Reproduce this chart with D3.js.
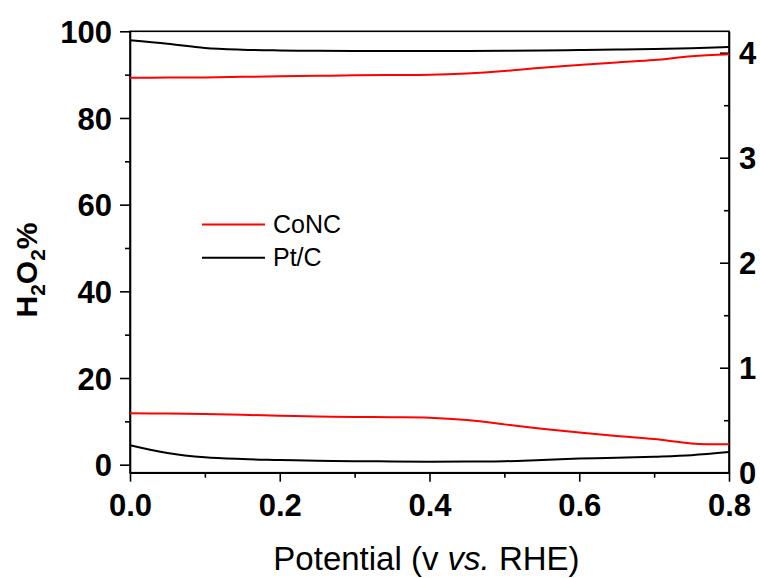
<!DOCTYPE html>
<html>
<head>
<meta charset="utf-8">
<script src="https://cdn.jsdelivr.net/npm/d3@7"></script>
<style>
  body { margin: 0; background: #fff; }
  svg { display: block; font-family: "Liberation Sans", Arial, sans-serif; }
  .tick text { font-weight: bold; }
</style>
</head>
<body>
<div id="chart"></div>
<script>
// potential values (V vs RHE)
const potential = [0, 0.05, 0.1, 0.15, 0.2, 0.25, 0.3, 0.35, 0.4, 0.45, 0.5, 0.55, 0.6, 0.65, 0.7, 0.75, 0.8];

// H2O2 % (left axis)
const concH2O2 = [11.85, 11.8, 11.7, 11.5, 11.3, 11.1, 11.0, 10.95, 10.85, 10.3, 9.3, 8.3, 7.4, 6.6, 5.9, 4.9, 4.7];
const ptcH2O2 = [4.5, 2.7, 1.7, 1.3, 1.1, 0.9, 0.8, 0.75, 0.7, 0.75, 0.8, 1.1, 1.4, 1.6, 1.85, 2.2, 2.9];

// electron transfer number (right axis)
const concN = [3.762, 3.763, 3.765, 3.77, 3.775, 3.78, 3.785, 3.788, 3.79, 3.803, 3.826, 3.857, 3.883, 3.908, 3.93, 3.967, 3.985];
const ptcN = [4.118, 4.085, 4.045, 4.029, 4.022, 4.018, 4.016, 4.016, 4.016, 4.017, 4.019, 4.022, 4.026, 4.03, 4.035, 4.043, 4.054];

const xTicks = [0, 0.2, 0.4, 0.6, 0.8];
const xMinor = [0.1, 0.3, 0.5, 0.7];
const yTicks = [0, 20, 40, 60, 80, 100];
const yMinor = [10, 30, 50, 70, 90];
const y2Ticks = [0, 1, 2, 3, 4];
const y2Minor = [0.5, 1.5, 2.5, 3.5];

const seriesNames = ["CoNC", "Pt/C"];
const seriesColors = ["#ff0000", "#000000"];

const W = 760, H = 578;
const margin = {top: 31.3, right: 31, bottom: 105.3, left: 130};
const width = W - margin.left - margin.right,
      height = H - margin.top - margin.bottom;

const svg = d3.select("#chart").append("svg")
  .attr("width", W)
  .attr("height", H);

const g = svg.append("g")
  .attr("transform", `translate(${margin.left},${margin.top})`);

const x = d3.scaleLinear().domain([0, 0.8]).range([0, width]);
const y = d3.scaleLinear().domain([-1.85, 100]).range([height, 0]);
const y2 = d3.scaleLinear().domain([0, 4.204]).range([height, 0]);

// bottom axis
g.append("g")
  .attr("transform", `translate(0,${height})`)
  .call(d3.axisBottom(x).tickValues(xTicks).tickSize(9).tickSizeOuter(0).tickPadding(12)
    .tickFormat(d3.format(".1f")))
  .call(a => a.selectAll("text").style("font-size", "31px"));
g.append("g")
  .attr("transform", `translate(0,${height})`)
  .call(d3.axisBottom(x).tickValues(xMinor).tickSize(5).tickSizeOuter(0).tickFormat(""))
  .call(a => a.select(".domain").remove());

// left axis
g.append("g")
  .call(d3.axisLeft(y).tickValues(yTicks).tickSize(10).tickSizeOuter(0).tickPadding(8))
  .call(a => a.selectAll("text").style("font-size", "31px").attr("dy", "0.36em"));
g.append("g")
  .call(d3.axisLeft(y).tickValues(yMinor).tickSize(5).tickSizeOuter(0).tickFormat(""))
  .call(a => a.select(".domain").remove());

// right axis, ticks pointing inward
g.append("g")
  .attr("transform", `translate(${width},0)`)
  .call(d3.axisRight(y2).tickValues(y2Ticks).tickSize(-9).tickSizeOuter(0).tickPadding(10)
    .tickFormat(d3.format("d")))
  .call(a => a.selectAll("text").style("font-size", "31px").attr("dy", "0.36em"));
g.append("g")
  .attr("transform", `translate(${width},0)`)
  .call(d3.axisRight(y2).tickValues(y2Minor).tickSize(-5).tickSizeOuter(0).tickFormat(""))
  .call(a => a.select(".domain").remove());

g.selectAll(".domain, .tick line").attr("stroke", "#000").attr("stroke-width", 1.6);

// frame
g.append("rect")
  .attr("width", width)
  .attr("height", height)
  .attr("fill", "none")
  .attr("stroke", "#000")
  .attr("stroke-width", 1.6);

// curves
const lineLeft = d3.line()
  .x((d, i) => x(potential[i]))
  .y(d => y(d))
  .curve(d3.curveCatmullRom.alpha(0.5));
const lineRight = d3.line()
  .x((d, i) => x(potential[i]))
  .y(d => y2(d))
  .curve(d3.curveCatmullRom.alpha(0.5));

const curves = [
  {vals: ptcH2O2, line: lineLeft, color: seriesColors[1]},
  {vals: ptcN, line: lineRight, color: seriesColors[1]},
  {vals: concH2O2, line: lineLeft, color: seriesColors[0]},
  {vals: concN, line: lineRight, color: seriesColors[0]}
];

g.selectAll(".curve")
  .data(curves)
  .join("path")
  .attr("class", "curve")
  .attr("fill", "none")
  .attr("stroke", d => d.color)
  .attr("stroke-width", 2)
  .attr("d", d => d.line(d.vals));

// legend
const legend = svg.append("g").attr("transform", "translate(202,224.5)");
seriesNames.forEach((name, i) => {
  legend.append("line")
    .attr("x1", 0).attr("x2", 63)
    .attr("y1", i * 33.3).attr("y2", i * 33.3)
    .attr("stroke", seriesColors[i])
    .attr("stroke-width", 2);
  legend.append("text")
    .attr("x", 71)
    .attr("y", i * 33.3 + 8.5)
    .style("font-size", "25px")
    .text(name);
});

// x label
const xl = svg.append("text")
  .attr("x", margin.left + width / 2 - 3)
  .attr("y", 570)
  .attr("text-anchor", "middle")
  .style("font-size", "33px");
xl.append("tspan").text("Potential (v ");
xl.append("tspan").style("font-style", "italic").text("vs.");
xl.append("tspan").text(" RHE)");

// y label
const yl = svg.append("text")
  .attr("transform", "translate(37,270) rotate(-90)")
  .attr("text-anchor", "middle")
  .style("font-size", "30px")
  .style("font-weight", "bold");
yl.append("tspan").text("H");
yl.append("tspan").attr("dy", 8).style("font-size", "21px").text("2");
yl.append("tspan").attr("dy", -8).text("O");
yl.append("tspan").attr("dy", 8).style("font-size", "21px").text("2");
yl.append("tspan").attr("dy", -8).text("%");
</script>
</body>
</html>
